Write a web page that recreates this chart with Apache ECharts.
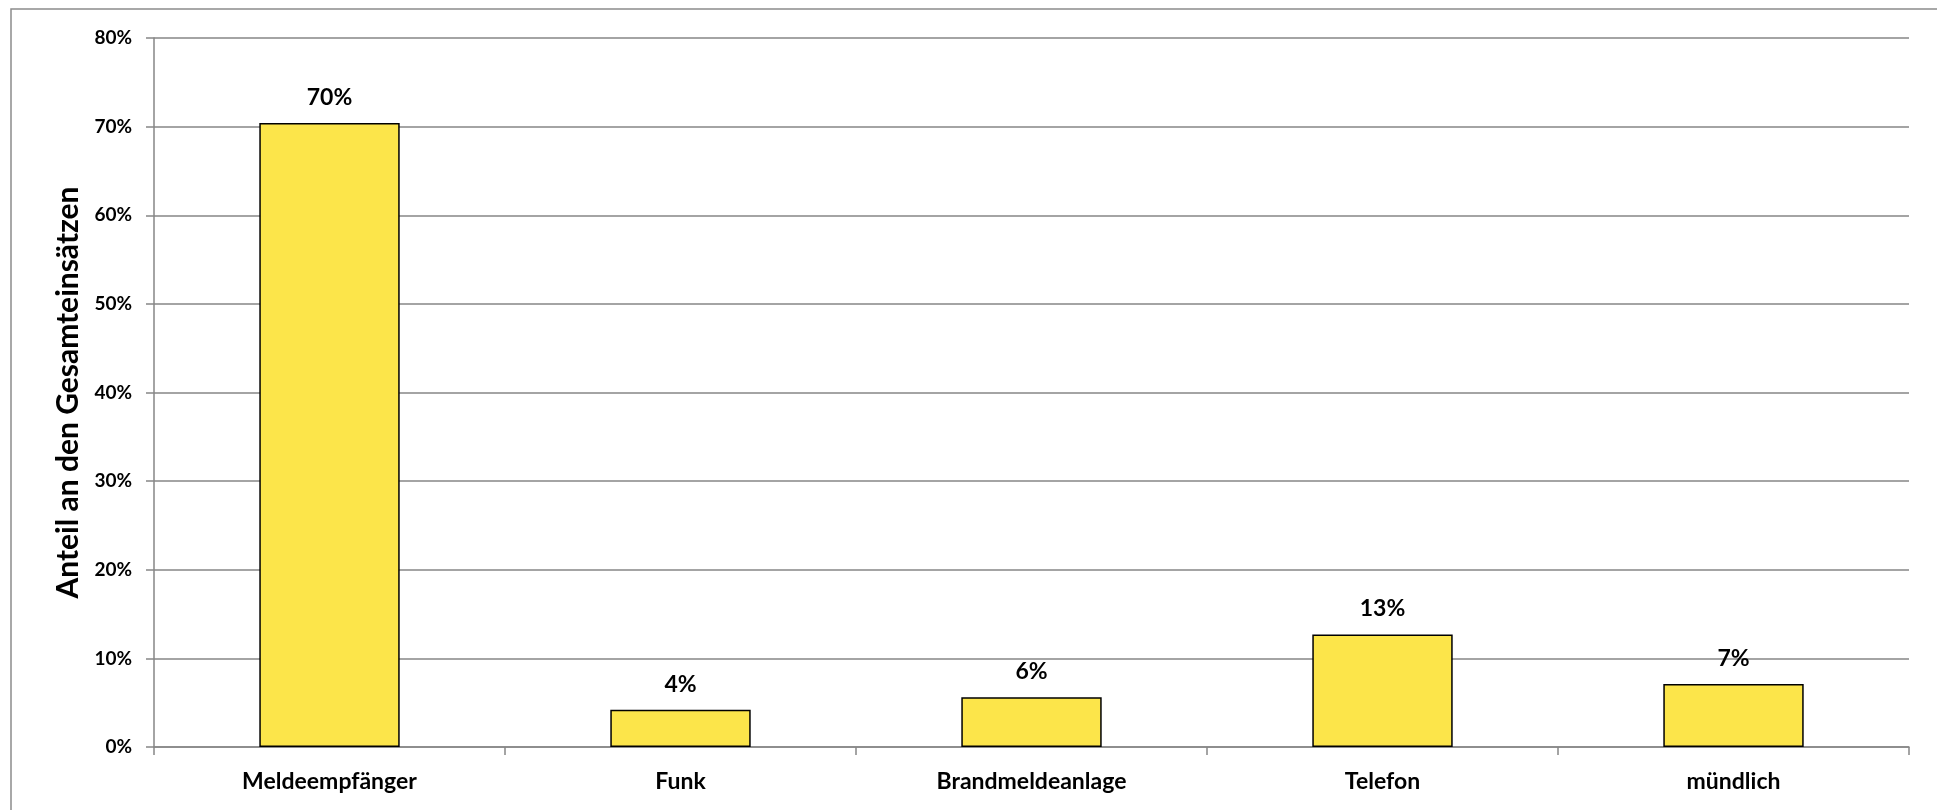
<!DOCTYPE html>
<html><head><meta charset="utf-8">
<script src="https://cdn.jsdelivr.net/npm/echarts@6/dist/echarts.min.js"></script>
<style>html,body{margin:0;padding:0;background:#fff}#c{width:1937px;height:810px}</style>
</head><body><div id="c"></div>
<script>
const categories = ['Meldeempfänger','Funk','Brandmeldeanlage','Telefon','mündlich'];
const values = [70.4, 4.2, 5.6, 12.7, 7.1];
const yTicks = [0,10,20,30,40,50,60,70,80];
const yTitle = 'Anteil an den Gesamteinsätzen';

const font = 'Lato, "Open Sans", sans-serif';
const chart = echarts.init(document.getElementById('c'));
chart.setOption({
  animation:false,
  backgroundColor:'#fff',
  graphic:[{type:'rect',shape:{x:11,y:9,width:1960,height:840},style:{fill:'none',stroke:'#8c8c8c',lineWidth:1.5},silent:true}],
  grid:{left:154,right:28,top:38,bottom:63},
  xAxis:{type:'category',data:categories,
    axisLine:{lineStyle:{color:'#868686',width:1.5}},
    axisTick:{show:true,length:8,lineStyle:{color:'#868686',width:1.5}},
    axisLabel:{color:'#000',fontWeight:'bold',fontSize:23,fontFamily:font,margin:23}},
  yAxis:{type:'value',min:yTicks[0],max:yTicks[yTicks.length-1],interval:10,
    name:yTitle,nameLocation:'middle',nameGap:67,
    nameTextStyle:{color:'#000',fontWeight:'bold',fontSize:30,fontFamily:font},
    axisLine:{show:true,lineStyle:{color:'#868686',width:1.5}},
    axisTick:{show:true,length:8,lineStyle:{color:'#868686',width:1.5}},
    splitLine:{lineStyle:{color:'#868686',width:1.5}},
    axisLabel:{color:'#000',fontWeight:'bold',fontSize:19,fontFamily:font,margin:22,formatter:v=>v+'%'}},
  series:[{type:'bar',data:values,barWidth:'40%',
    itemStyle:{color:'#FCE54A',borderColor:'#000',borderWidth:1.5},
    label:{show:true,position:'top',distance:14,color:'#000',fontWeight:'bold',fontSize:23,fontFamily:font,
      formatter:p=>Math.round(p.value)+'%'}}]
});
</script></body></html>
